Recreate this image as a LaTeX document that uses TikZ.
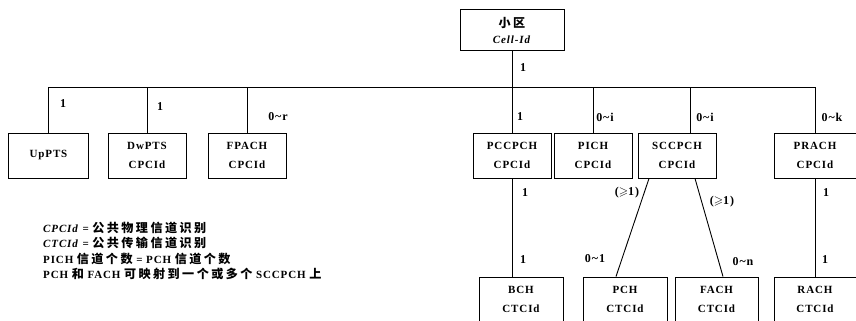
\documentclass[tikz,border=0pt]{standalone}
\usepackage{amssymb}
\usepackage{fontspec}
\setmainfont{Liberation Serif}[LetterSpace=8]
\newfontfamily\cjk{Noto Sans CJK SC}[LetterSpace=20,Scale=1.1]
\tikzset{
  chbox/.style={draw=black,line width=0.9pt,minimum width=78pt,minimum height=45pt,
    inner sep=1pt,align=center,font=\fontsize{11}{19}\selectfont\bfseries},
  cellbox/.style={chbox,minimum width=104pt,minimum height=41pt,
    font=\fontsize{11}{16}\selectfont\bfseries},
  trbox/.style={chbox,minimum width=84pt},
  conn/.style={line width=0.9pt},
  mult/.style={font=\fontsize{12}{14}\selectfont\bfseries,inner sep=1pt},
  legendtxt/.style={font=\fontsize{11}{15.3}\selectfont\bfseries,align=left,
    inner sep=0pt},
}

\begin{document}
\begin{tikzpicture}[x=1pt,y=-1pt]
  \useasboundingbox (0,0) rectangle (856,321);
  \clip (0,0) rectangle (856,321);
  \node[cellbox] (cell) at (512,30) {{\cjk 小区}\\\textit{Cell-Id}};
  \node[chbox,minimum width=80pt] (uppts) at (48.5,155.5) {UpPTS};
  \node[chbox] (dwpts) at (147,155.5) {DwPTS\\CPCId};
  \node[chbox] (fpach) at (247,155.5) {FPACH\\CPCId};
  \node[chbox] (pccpch) at (512,155.5) {PCCPCH\\CPCId};
  \node[chbox] (pich) at (593,155.5) {PICH\\CPCId};
  \node[chbox] (sccpch) at (677,155.5) {SCCPCH\\CPCId};
  \node[chbox,minimum width=82pt] (prach) at (815,155.5) {PRACH\\CPCId};
  \node[trbox] (bch) at (521,299.5) {BCH\\CTCId};
  \node[trbox] (pch) at (625,299.5) {PCH\\CTCId};
  \node[trbox,minimum width=83pt] (fach) at (716.5,299.5) {FACH\\CTCId};
  \node[trbox,minimum width=82pt] (rach) at (815,299.5) {RACH\\CTCId};
  \coordinate (bus) at (512,87);
  \draw[conn] (cell) -- (pccpch);
  \draw[conn] (uppts.north |- bus) -- (prach.north |- bus);
  \foreach \n in {uppts,dwpts,fpach,pich,prach}
    \draw[conn] (\n.north |- bus) -- (\n.north);
  \draw[conn] ([xshift=13pt]sccpch.north |- bus) -- ([xshift=13pt]sccpch.north);
  \draw[conn] (pccpch.south) -- (pccpch.south |- bch.north);
  \draw[conn] ([xshift=-28pt]sccpch.south) -- ([xshift=-9pt]pch.north);
  \draw[conn] ([xshift=18pt]sccpch.south) -- ([xshift=6.5pt]fach.north);
  \draw[conn] (prach) -- (rach);
  \node[mult] (mcell) at (523,68) {1};
  \node[mult] (mup) at (63,104) {1};
  \node[mult] (mdw) at (160,107) {1};
  \node[mult] (mfp) at (278,117) {0\textasciitilde r};
  \node[mult] (mpcc) at (520,117) {1};
  \node[mult] (mpi) at (605,117) {0\textasciitilde i};
  \node[mult] (msc) at (705,117) {0\textasciitilde i};
  \node[mult] (mpr) at (832,117) {0\textasciitilde k};
  \node[mult] (mbcha) at (525,193) {1};
  \node[mult] (mbchb) at (523,260) {1};
  \node[mult] (mpcha) at (627,193) {($\geqslant$1)};
  \node[mult] (mfacha) at (722,202) {($\geqslant$1)};
  \node[mult] (mpchb) at (595,259) {0\textasciitilde 1};
  \node[mult] (mfachb) at (743,262) {0\textasciitilde n};
  \node[mult] (mracha) at (826,193) {1};
  \node[mult] (mrachb) at (825,260) {1};
  \node[legendtxt,anchor=west] (legend) at (43,251)
    {\textit{CPCId} = {\cjk 公共物理信道识别}\\
     \textit{CTCId} = {\cjk 公共传输信道识别}\\
     PICH {\cjk 信道个数} = PCH {\cjk 信道个数}\\
     PCH {\cjk 和} FACH {\cjk 可映射到一个或多个} SCCPCH {\cjk 上}};
\end{tikzpicture}
\end{document}
